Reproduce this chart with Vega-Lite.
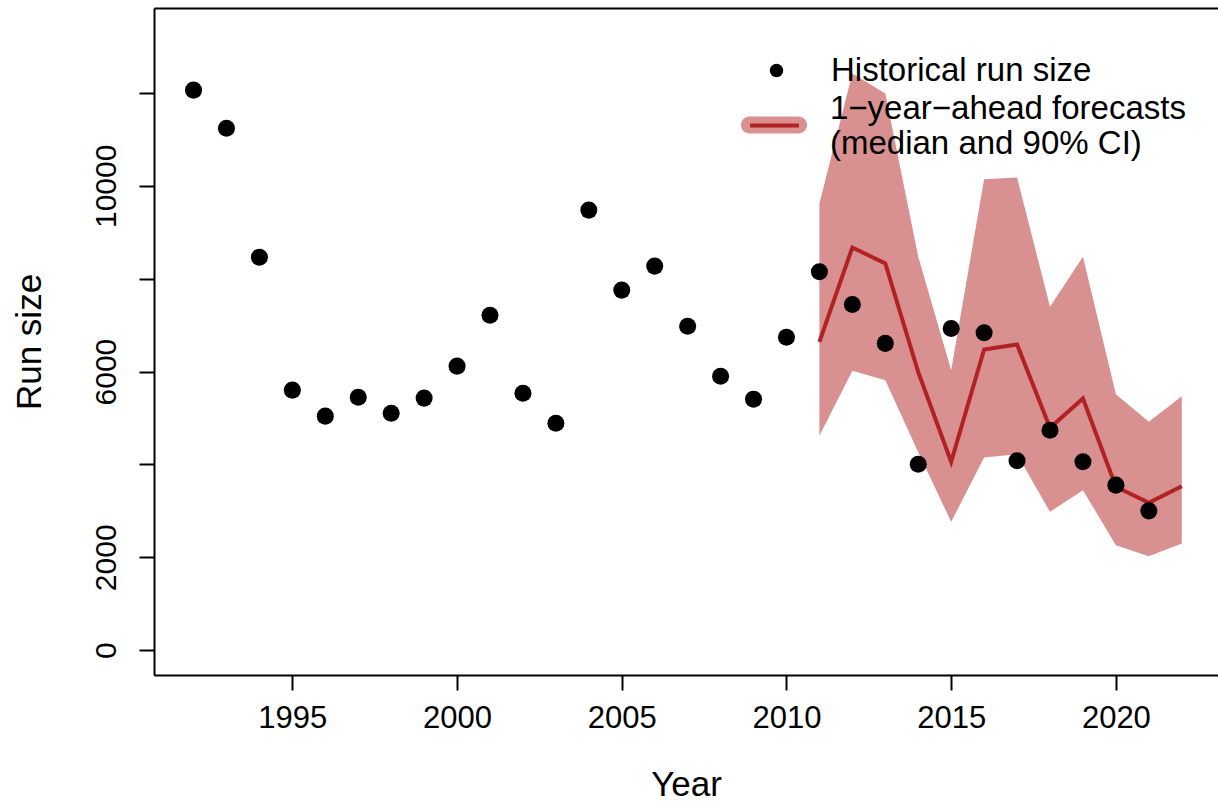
{
  "$schema": "https://vega.github.io/schema/vega-lite/v6.json",
  "width": 1064,
  "height": 667,
  "autosize": {"type": "none"},
  "padding": {"left": 154, "top": 8, "right": 0, "bottom": 126},
  "background": "white",
  "config": {
    "font": "Liberation Sans",
    "view": {"stroke": null},
    "axis": {
      "domainColor": "black", "domainWidth": 2, "tickColor": "black", "tickWidth": 2, "tickSize": 15,
      "labelColor": "black", "titleColor": "black", "labelFont": "Liberation Sans", "titleFont": "Liberation Sans",
      "labelFontSize": 30, "titleFontSize": 35, "titleFontWeight": "normal", "grid": false,
      "labelFlush": false, "labelOverlap": false
    },
    "legend": {"labelFont": "Liberation Sans", "labelFontSize": 33, "labelColor": "black", "labelLimit": 700, "padding": 0, "symbolOffset": 0}
  },
  "datasets": {
    "hist": [
      {"year": 1992, "run": 12061, "series": "Historical run size"},
      {"year": 1993, "run": 11240, "series": "Historical run size"},
      {"year": 1994, "run": 8464, "series": "Historical run size"},
      {"year": 1995, "run": 5600, "series": "Historical run size"},
      {"year": 1996, "run": 5040, "series": "Historical run size"},
      {"year": 1997, "run": 5449, "series": "Historical run size"},
      {"year": 1998, "run": 5104, "series": "Historical run size"},
      {"year": 1999, "run": 5428, "series": "Historical run size"},
      {"year": 2000, "run": 6117, "series": "Historical run size"},
      {"year": 2001, "run": 7215, "series": "Historical run size"},
      {"year": 2002, "run": 5535, "series": "Historical run size"},
      {"year": 2003, "run": 4889, "series": "Historical run size"},
      {"year": 2004, "run": 9477, "series": "Historical run size"},
      {"year": 2005, "run": 7754, "series": "Historical run size"},
      {"year": 2006, "run": 8271, "series": "Historical run size"},
      {"year": 2007, "run": 6978, "series": "Historical run size"},
      {"year": 2008, "run": 5901, "series": "Historical run size"},
      {"year": 2009, "run": 5406, "series": "Historical run size"},
      {"year": 2010, "run": 6741, "series": "Historical run size"},
      {"year": 2011, "run": 8148, "series": "Historical run size"},
      {"year": 2012, "run": 7446, "series": "Historical run size"},
      {"year": 2013, "run": 6607, "series": "Historical run size"},
      {"year": 2014, "run": 4006, "series": "Historical run size"},
      {"year": 2015, "run": 6929, "series": "Historical run size"},
      {"year": 2016, "run": 6835, "series": "Historical run size"},
      {"year": 2017, "run": 4078, "series": "Historical run size"},
      {"year": 2018, "run": 4738, "series": "Historical run size"},
      {"year": 2019, "run": 4056, "series": "Historical run size"},
      {"year": 2020, "run": 3554, "series": "Historical run size"},
      {"year": 2021, "run": 3000, "series": "Historical run size"}
    ],
    "fc": [
      {"year": 2011, "median": 6641, "lo": 4620, "hi": 9621, "series": "1−year−ahead forecasts", "band": "median and 90% CI"},
      {"year": 2012, "median": 8673, "lo": 6016, "hi": 12420, "series": "1−year−ahead forecasts", "band": "median and 90% CI"},
      {"year": 2013, "median": 8328, "lo": 5815, "hi": 11990, "series": "1−year−ahead forecasts", "band": "median and 90% CI"},
      {"year": 2014, "median": 5990, "lo": 4264, "hi": 8471, "series": "1−year−ahead forecasts", "band": "median and 90% CI"},
      {"year": 2015, "median": 4056, "lo": 2764, "hi": 6031, "series": "1−year−ahead forecasts", "band": "median and 90% CI"},
      {"year": 2016, "median": 6476, "lo": 4150, "hi": 10144, "series": "1−year−ahead forecasts", "band": "median and 90% CI"},
      {"year": 2017, "median": 6584, "lo": 4221, "hi": 10181, "series": "1−year−ahead forecasts", "band": "median and 90% CI"},
      {"year": 2018, "median": 4790, "lo": 2979, "hi": 7394, "series": "1−year−ahead forecasts", "band": "median and 90% CI"},
      {"year": 2019, "median": 5420, "lo": 3446, "hi": 8471, "series": "1−year−ahead forecasts", "band": "median and 90% CI"},
      {"year": 2020, "median": 3518, "lo": 2261, "hi": 5514, "series": "1−year−ahead forecasts", "band": "median and 90% CI"},
      {"year": 2021, "median": 3173, "lo": 2025, "hi": 4917, "series": "1−year−ahead forecasts", "band": "median and 90% CI"},
      {"year": 2022, "median": 3532, "lo": 2298, "hi": 5470, "series": "1−year−ahead forecasts", "band": "median and 90% CI"}
    ]
  },
  "resolve": {"axis": {"x": "independent"}},
  "layer": [
    {
      "data": {"name": "fc"},
      "mark": {"type": "area", "orient": "vertical", "opacity": 1},
      "encoding": {
        "x": {
          "field": "year", "type": "quantitative",
          "scale": {"domain": [1990.8, 2023.1], "nice": false, "zero": false},
          "axis": {"orient": "bottom", "values": [1995, 2000, 2005, 2010, 2015, 2020], "format": "d", "title": "Year", "labelFontSize": 31, "labelPadding": 13, "titleBaseline": "alphabetic", "titleY": 120}
        },
        "y": {
          "field": "lo", "type": "quantitative",
          "scale": {"domain": [-535, 13830], "nice": false, "zero": false},
          "axis": {
            "values": [0, 2000, 4000, 6000, 8000, 10000, 12000], "format": "d",
            "labelExpr": "(datum.value==0||datum.value==2000||datum.value==6000||datum.value==10000)?datum.label:''",
            "labelAngle": -90, "labelAlign": "center", "labelBaseline": "alphabetic", "labelPadding": 24,
            "title": "Run size", "titleAngle": -90, "titleBaseline": "alphabetic", "titleAlign": "center", "titleX": -114
          }
        },
        "y2": {"field": "hi"},
        "fill": {
          "field": "band", "type": "nominal", "scale": {"range": ["#D89090"]},
          "legend": {
            "orient": "none", "legendX": 587, "legendY": 67.5, "title": null,
            "symbolType": "M -0.7424,0.2424 L 0.7424,0.2424 A 0.2576 0.2576 0 0 1 0.7424 0.7576 L -0.7424 0.7576 A 0.2576 0.2576 0 0 1 -0.7424 0.2424 Z",
            "symbolSize": 4356, "symbolFillColor": "#D89090", "symbolStrokeWidth": 0, "labelOffset": 23,
            "labelExpr": "['1−year−ahead forecasts', '(median and 90% CI)']"
          }
        }
      }
    },
    {
      "data": {"name": "fc"},
      "mark": {"type": "line", "strokeWidth": 4},
      "encoding": {
        "x": {"field": "year", "type": "quantitative", "axis": null},
        "y": {"field": "median", "type": "quantitative"},
        "stroke": {
          "field": "series", "type": "nominal", "scale": {"range": ["#B22222"]},
          "legend": {
            "orient": "none", "legendX": 594, "legendY": 91, "title": null,
            "symbolType": "stroke", "symbolSize": 2401, "symbolStrokeColor": "#B22222", "symbolStrokeWidth": 4,
            "labelExpr": "''"
          }
        }
      }
    },
    {
      "data": {"name": "hist"},
      "mark": {"type": "point", "filled": true, "color": "black", "size": 290, "opacity": 1},
      "encoding": {
        "x": {"field": "year", "type": "quantitative", "axis": null},
        "y": {"field": "run", "type": "quantitative"},
        "shape": {
          "field": "series", "type": "nominal", "scale": {"range": ["circle"]},
          "legend": {
            "orient": "none", "legendX": 606, "legendY": 46, "title": null,
            "symbolType": "circle", "symbolSize": 180, "symbolFillColor": "black", "symbolStrokeColor": "black", "symbolStrokeWidth": 0,
            "labelOffset": 38
          }
        }
      }
    },
    {
      "data": {"name": "hist"},
      "mark": {"type": "point", "opacity": 0},
      "encoding": {
        "x": {"field": "year", "type": "quantitative", "axis": {"orient": "top", "labels": false, "ticks": false, "title": null, "domain": true}},
        "y": {"field": "run", "type": "quantitative"}
      }
    }
  ]
}
